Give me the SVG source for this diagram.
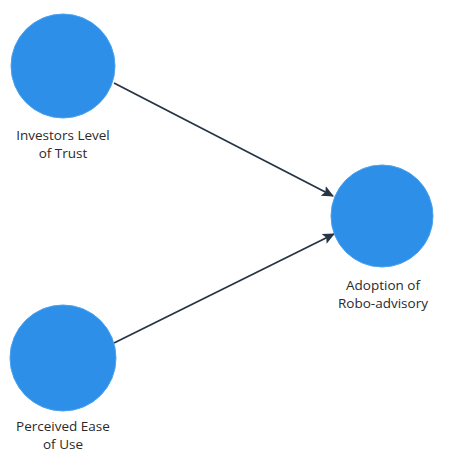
<svg xmlns="http://www.w3.org/2000/svg" width="456" height="457" viewBox="0 0 456 457">
<style>
.node{fill:#2d8fe8;stroke:#4aa2ef;stroke-width:1}
.lbl{font-family:"Open Sans","Noto Sans",sans-serif;font-size:13.5px;fill:#2a2a2a;text-anchor:middle}
.edge{stroke:#273444;stroke-width:1.8;fill:none}
</style>
<defs>
<marker id="ah" markerWidth="12" markerHeight="12" refX="11" refY="6" orient="auto" markerUnits="userSpaceOnUse">
<path d="M0,0.5 L12,6 L0,11.5 L2.5,6 Z" fill="#273444"/>
</marker>
</defs>
<rect width="456" height="457" fill="#ffffff"/>
<g id="connectors">
<line class="edge" x1="114" y1="83" x2="333" y2="196" marker-end="url(#ah)"/>
<line class="edge" x1="114" y1="343" x2="334" y2="234" marker-end="url(#ah)"/>
</g>
<g id="trust">
<circle class="node" cx="63" cy="66" r="52"/>
<text class="lbl" x="63" y="140">Investors Level</text>
<text class="lbl" x="63" y="158">of Trust</text>
</g>
<g id="ease">
<circle class="node" cx="63" cy="358" r="53"/>
<text class="lbl" x="63" y="431">Perceived Ease</text>
<text class="lbl" x="63" y="449">of Use</text>
</g>
<g id="adoption">
<circle class="node" cx="382" cy="216" r="51"/>
<text class="lbl" x="383" y="290">Adoption of</text>
<text class="lbl" x="383" y="308">Robo-advisory</text>
</g>
</svg>
